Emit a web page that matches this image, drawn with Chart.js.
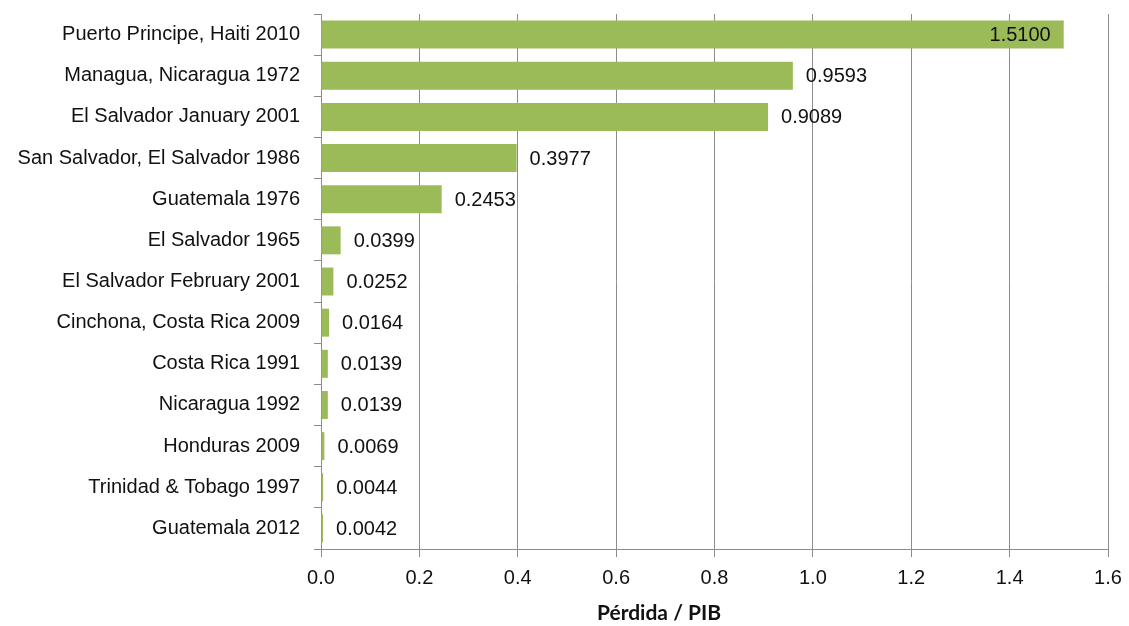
<!DOCTYPE html>
<html>
<head>
<meta charset="utf-8">
<script src="https://cdn.jsdelivr.net/npm/chart.js@4/dist/chart.umd.min.js"></script>
<style>
  html, body { margin: 0; padding: 0; background: #fff; }
  #wrap { width: 1129px; height: 626px; position: relative; }
</style>
</head>
<body>
<div id="wrap"><canvas id="chart"></canvas></div>
<script>
// Event names (top to bottom)
const events = [
    'Puerto Principe, Haiti 2010',
    'Managua, Nicaragua 1972',
    'El Salvador January 2001',
    'San Salvador, El Salvador 1986',
    'Guatemala 1976',
    'El Salvador 1965',
    'El Salvador February 2001',
    'Cinchona, Costa Rica 2009',
    'Costa Rica 1991',
    'Nicaragua 1992',
    'Honduras 2009',
    'Trinidad & Tobago 1997',
    'Guatemala 2012'
];

// Loss / GDP ratio
const lossRatio = [1.5100, 0.9593, 0.9089, 0.3977, 0.2453, 0.0399, 0.0252, 0.0164, 0.0139, 0.0139, 0.0069, 0.0044, 0.0042];

const xTicks = [0, 0.2, 0.4, 0.6, 0.8, 1.0, 1.2, 1.4, 1.6];
const xTitle = 'Pérdida / PIB';

const barColor = '#9BBB59';
const gridColor = '#8c8c8c';
const labelFont = '20px "Liberation Sans", Arial, sans-serif';

// Draw the value next to each bar (first one sits inside the bar end)
const valueLabels = {
    id: 'valueLabels',
    afterDatasetsDraw(chart) {
        const ctx = chart.ctx;
        const meta = chart.getDatasetMeta(0);
        ctx.save();
        ctx.font = labelFont;
        ctx.fillStyle = '#111';
        ctx.textBaseline = 'middle';
        meta.data.forEach((bar, i) => {
            const txt = lossRatio[i].toFixed(4);
            if (i === 0) {
                ctx.textAlign = 'right';
                ctx.fillText(txt, bar.x - 13, bar.y + 1);
            } else {
                ctx.textAlign = 'left';
                ctx.fillText(txt, bar.x + 13, bar.y + 1);
            }
        });
        ctx.restore();
    }
};

// Axis title, centred a bit left of the plot like the original
const axisTitle = {
    id: 'axisTitle',
    afterDraw(chart) {
        const ctx = chart.ctx;
        ctx.save();
        ctx.font = 'bold 21px Lato, "Open Sans", sans-serif';
        ctx.fillStyle = '#111';
        ctx.textAlign = 'center';
        ctx.textBaseline = 'middle';
        ctx.fillText(xTitle, 659, 613);
        ctx.restore();
    }
};

function init() {
    const ctx = document.getElementById('chart').getContext('2d');
    new Chart(ctx, {
        type: 'bar',
        data: {
            labels: events,
            datasets: [{
                data: lossRatio,
                backgroundColor: barColor,
                borderWidth: 0,
                categoryPercentage: 0.68,
                barPercentage: 1.0
            }]
        },
        options: {
            indexAxis: 'y',
            responsive: true,
            maintainAspectRatio: false,
            animation: false,
            layout: { padding: { top: 14, right: 21, left: 0, bottom: 0 } },
            plugins: {
                legend: { display: false },
                tooltip: { enabled: false }
            },
            scales: {
                x: {
                    min: 0,
                    max: 1.6,
                    afterBuildTicks: (scale) => {
                        scale.ticks = xTicks.map(v => ({ value: v }));
                    },
                    afterFit: (scale) => {
                        scale.height = 77;
                        scale.paddingRight = 0;
                    },
                    grid: {
                        color: gridColor,
                        lineWidth: 1,
                        tickLength: 8
                    },
                    border: { color: gridColor },
                    ticks: {
                        color: '#111',
                        font: { family: '"Liberation Sans", Arial, sans-serif', size: 20 },
                        padding: 9,
                        callback: (v) => Number(v).toFixed(1)
                    }
                },
                y: {
                    afterFit: (scale) => {
                        scale.width = 321;
                        scale.paddingTop = 0;
                        scale.paddingBottom = 0;
                    },
                    grid: {
                        drawOnChartArea: false,
                        color: gridColor,
                        tickLength: 7,
                        offset: true
                    },
                    border: { color: gridColor },
                    ticks: {
                        color: '#111',
                        font: { family: '"Liberation Sans", Arial, sans-serif', size: 20 },
                        padding: 14
                    }
                }
            }
        },
        plugins: [valueLabels, axisTitle]
    });
}

document.addEventListener('DOMContentLoaded', init);
</script>
</body>
</html>
